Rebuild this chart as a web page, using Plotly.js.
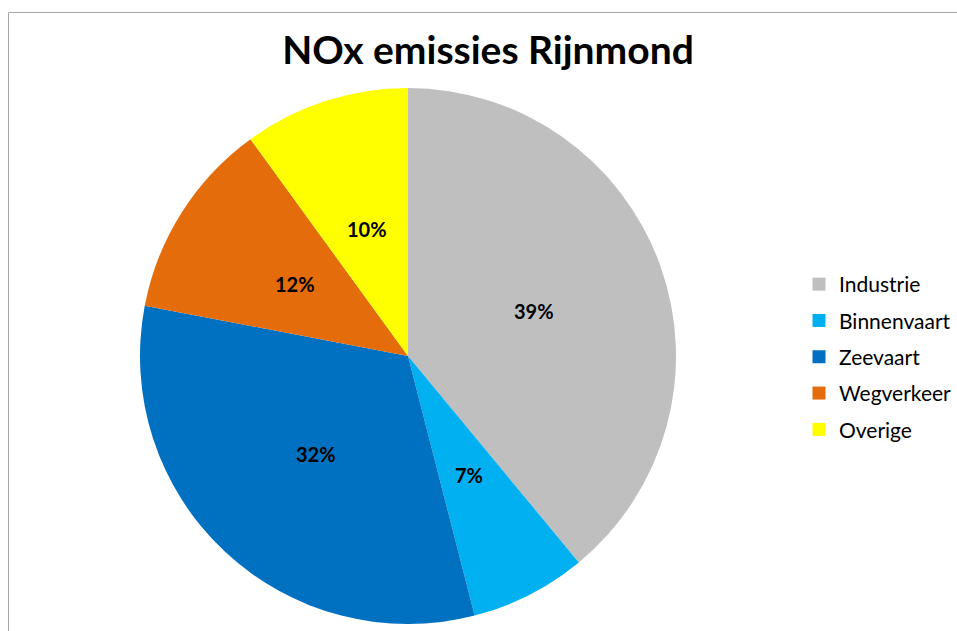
<!DOCTYPE html>
<html>
<head>
<meta charset="utf-8">
<script src="https://cdn.plot.ly/plotly-3.0.1.min.js"></script>
<style>
  html, body { margin: 0; padding: 0; background: #ffffff; }
  #chart { width: 957px; height: 631px; }
</style>
</head>
<body>
<div id="chart"></div>
<script>
// NOx emission shares per source in the Rijnmond region (percent)
const categories = ["Industrie", "Binnenvaart", "Zeevaart", "Wegverkeer", "Overige"];
const shares = [39, 7, 32, 12, 10];
const sliceColors = ["#BFBFBF", "#00B0F0", "#0070C0", "#E46C0A", "#FFFF00"];

const fontFamily = "Lato, 'Open Sans', sans-serif";

const W = 957, H = 631;
// pie placement in pixels (centre and radius)
const CX = 408, CY = 356, R = 268;
const domain = {
  x: [(CX - R) / W, (CX + R) / W],
  y: [(H - CY - R) / H, (H - CY + R) / H]
};

const pie = {
  type: "pie",
  labels: categories,
  values: shares,
  sort: false,
  direction: "clockwise",
  rotation: 0,
  marker: { colors: sliceColors, line: { width: 0 } },
  textinfo: "none",
  hoverinfo: "label+value",
  showlegend: false,
  domain: domain
};

// legend entries, one per category, so the rows can be spaced apart
const legendEntries = categories.map((name, i) => ({
  type: "scatter",
  mode: "markers",
  x: [null],
  y: [null],
  name: name,
  legendgroup: name,
  marker: { symbol: "square", size: 13, color: sliceColors[i] },
  hoverinfo: "skip",
  showlegend: true
}));

// percentage labels at half the radius, on each slice's middle angle
const total = shares.reduce((a, b) => a + b, 0);
let cumulative = 0;
const labelAnnotations = shares.map((v) => {
  const mid = (cumulative + v / 2) / total * 2 * Math.PI;
  cumulative += v;
  const px = CX + 0.5 * R * Math.sin(mid);
  const py = CY - 0.5 * R * Math.cos(mid);
  return {
    xref: "paper", yref: "paper",
    x: px / W, y: 1 - py / H,
    xanchor: "center", yanchor: "middle",
    text: "<b>" + v + "%</b>",
    showarrow: false,
    font: { family: fontFamily, size: 20, color: "#000000" }
  };
});

const layout = {
  width: W,
  height: H,
  margin: { l: 0, r: 0, t: 0, b: 0 },
  paper_bgcolor: "#ffffff",
  plot_bgcolor: "rgba(0,0,0,0)",
  xaxis: { visible: false },
  yaxis: { visible: false },
  title: {
    text: "<b>NOx emissies Rijnmond</b>",
    font: { family: fontFamily, size: 39, color: "#000000" },
    x: 488 / W,
    xanchor: "center",
    y: 1 - 50 / H,
    yanchor: "middle"
  },
  showlegend: true,
  legend: {
    x: 1,
    xanchor: "right",
    y: 1 - 357 / H,
    yanchor: "middle",
    font: { family: fontFamily, size: 21, color: "#000000" },
    itemwidth: 30,
    tracegroupgap: 6,
    bgcolor: "rgba(0,0,0,0)"
  },
  annotations: labelAnnotations,
  shapes: [{
    type: "rect",
    xref: "paper", yref: "paper",
    x0: 8.5 / W, x1: 1.02,
    y0: -0.02, y1: 1 - 12.5 / H,
    line: { color: "#A6A6A6", width: 1 },
    fillcolor: "rgba(0,0,0,0)",
    layer: "below"
  }]
};

Plotly.newPlot("chart", [pie].concat(legendEntries), layout, { staticPlot: true, displayModeBar: false });
</script>
</body>
</html>
